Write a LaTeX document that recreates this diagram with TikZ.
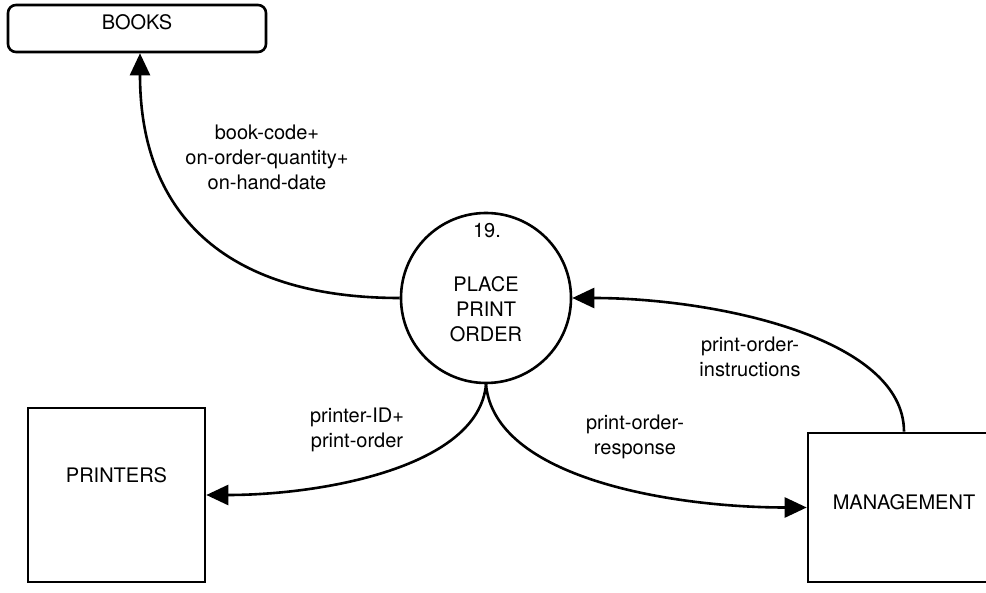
\documentclass[tikz,border=0pt]{standalone}
\usepackage{fontspec}
\setmainfont{TeX Gyre Heros}
\usetikzlibrary{arrows.meta}

\begin{document}
\begin{tikzpicture}[x=0.5pt,y=-0.5pt,font=\fontsize{10}{12.5}\selectfont,
    store/.style={draw,line width=1.3pt,rounded corners=4pt,minimum width=129pt,minimum height=23.5pt,inner sep=0pt},
    extent/.style={draw,line width=1.3pt,minimum width=88.5pt,minimum height=87pt,inner sep=0pt},
    process/.style={draw,circle,line width=1.3pt,minimum size=85pt,inner sep=0pt},
    flow/.style={line width=1.3pt,-{Triangle[length=11pt,width=10pt]}},
    flowtext/.style={align=center}]
    \path[use as bounding box,clip] (0,0) rectangle (986,593);
    % stores, entities, process
    \node[store,text height=7pt,text depth=6.3pt] (books) at (137,28.5) {BOOKS};
    \node[extent,text height=7pt,text depth=19.8pt] (printers) at (116.5,495) {PRINTERS};
    \node[extent,minimum width=96pt,minimum height=74.5pt,text height=7pt,text depth=5.3pt] (management) at (904,507.5) {MANAGEMENT};
    \node[process] (place) at (486,298) {};
    \node (placenum) at (487,231) {19.};
    \node[align=center] (placename) at (486,309) {PLACE\\PRINT\\ORDER};
    % flow labels
    \node[flowtext] (bookdata) at (267,157) {book-code+\\on-order-quantity+\\on-hand-date};
    \node[flowtext] (orderdata) at (357,430) {printer-ID+\\print-order};
    \node[flowtext] (responsedata) at (635,437) {print-order-\\response};
    \node[flowtext] (instructdata) at (750,357) {print-order-\\instructions};
    % flows
    \draw[flow] (place.west) to[out=180,in=-90,looseness=1.2] ([xshift=1.5pt]books.south);
    \draw[flow] (place.south) to[out=-95,in=0,out looseness=0.7] (printers.east);
    \draw[flow] (place.south) to[out=-85,in=180,out looseness=0.7] (management.west);
    \draw[flow] (management.north) to[out=90,in=0,out looseness=0.68] (place.east);
\end{tikzpicture}
\end{document}
